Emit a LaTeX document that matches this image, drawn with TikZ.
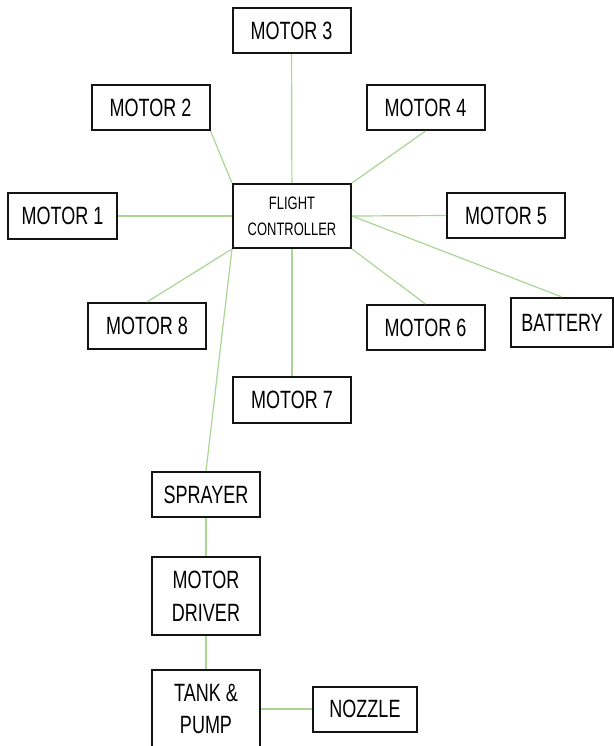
\documentclass[tikz,border=0pt]{standalone}
\usepackage{fontspec}
\setmainfont{Liberation Sans}[FakeStretch=0.72]
\usepackage{tikz}
\usetikzlibrary{positioning}
\definecolor{wire}{RGB}{169,214,146}
\definecolor{edge}{RGB}{20,20,20}
\tikzset{part/.style={draw=edge,line width=1pt,align=center,inner sep=0pt,font=\fontsize{12.5}{16.3}\selectfont},motor/.style={part,minimum width=59pt,minimum height=22.5pt},link/.style={draw=wire,line width=0.6pt}}

\begin{document}
\begin{tikzpicture}[x=0.5pt,y=-0.5pt]
\useasboundingbox (0,0) rectangle (614,746);
\node[part,minimum width=59pt,minimum height=32pt,font=\fontsize{9}{12.8}\selectfont] (fc) at (292,216) {FLIGHT\\CONTROLLER};
\node[motor] (m3) at (291.5,30.5) {MOTOR 3};
\node[motor] (m2) at (150.5,107.5) {MOTOR 2};
\node[motor] (m4) at (425.5,107.5) {MOTOR 4};
\node[motor,minimum width=54.5pt,minimum height=23pt] (m1) at (62.5,216) {MOTOR 1};
\node[motor] (m5) at (506,215.5) {MOTOR 5};
\node[motor,minimum height=23pt] (m8) at (147,326) {MOTOR 8};
\node[motor,minimum height=23pt] (m7) at (292,400) {MOTOR 7};
\node[motor] (m6) at (425.5,327.5) {MOTOR 6};
\node[part,minimum width=51pt,minimum height=24.5pt] (bat) at (562,322.5) {BATTERY};
\node[part,minimum width=54pt,minimum height=22.5pt] (spray) at (206,494.5) {SPRAYER};
\node[part,minimum width=54pt,minimum height=39pt] (drv) at (206,596) {MOTOR\\DRIVER};
\node[part,minimum width=54pt,minimum height=39pt] (tank) at (206,709) {TANK \&\\PUMP};
\node[part,minimum width=52pt,minimum height=22.5pt] (noz) at (365,709) {NOZZLE};
\draw[link] (m3)--(fc);
\draw[link] (m2.south east)--(fc.north west);
\draw[link] (m4.south)--(fc.north east);
\draw[link] (m1)--(fc);
\draw[link] (fc.east)--(m5.west);
\draw[link] (fc.east)--(bat.north);
\draw[link] (fc.south east)--(m6.north);
\draw[link] (fc)--(m7);
\draw[link] (fc.south west)--(m8.north);
\draw[link] (fc.south west)--(spray.north);
\draw[link] (spray)--(drv);
\draw[link] (drv)--(tank);
\draw[link] (tank)--(noz);
\end{tikzpicture}
\end{document}
